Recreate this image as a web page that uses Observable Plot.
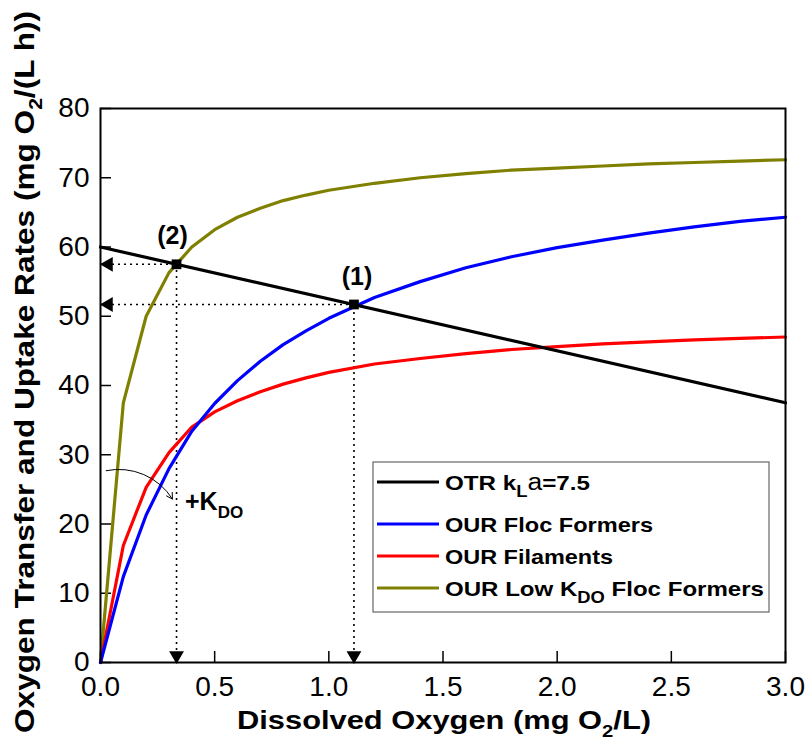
<!DOCTYPE html>
<html><head><meta charset="utf-8">
<script src="https://cdn.jsdelivr.net/npm/d3@7"></script>
<script src="https://cdn.jsdelivr.net/npm/@observablehq/plot@0.6"></script>
<style>body{margin:0;background:#fff;font-family:"Liberation Sans",Arial,sans-serif}</style>
</head><body><div id="chart"></div>
<script>
// Dissolved oxygen grid (mg O2/L)
const doGrid = [0,0.1,0.2,0.3,0.4,0.5,0.6,0.7,0.8,0.9,1.0,1.2,1.4,1.6,1.8,2.0,2.2,2.4,2.6,2.8,3.0];
const ourFloc = [0,12.4,21.3,28.0,33.4,37.4,40.7,43.5,45.9,47.9,49.7,52.7,55.0,57.0,58.6,59.9,61.0,62.0,62.9,63.7,64.3];
const ourFil  = [0,16.9,25.3,30.3,34.0,36.2,37.8,39.1,40.2,41.1,41.9,43.1,43.9,44.6,45.2,45.6,46.0,46.3,46.6,46.8,47.0];
const ourLowK = [0,37.5,50.0,56.3,60.0,62.5,64.3,65.6,66.7,67.5,68.2,69.2,70.0,70.6,71.1,71.4,71.7,72.0,72.2,72.4,72.6];
// OTR line
const otrDO = [0, 3.0];
const otrVal = [60, 37.5];
// operating points
const opDO = [1.11, 0.333];
const opRate = [51.7, 57.5];
const opLabel = ["(1)", "(2)"];
// ticks
const xTicks = [0,0.5,1.0,1.5,2.0,2.5,3.0];
const yTicks = [0,10,20,30,40,50,60,70,80];
// legend
const seriesNames = ["OTR", "OUR Floc Formers", "OUR Filaments", "OUR Low KDO Floc Formers"];
const seriesColors = ["#000000", "#0000ff", "#ff0000", "#808000"];
// K_DO annotation arrow
const kArrow = [{x1: 0.025, y1: 27.7, x2: 0.315, y2: 23.6}];

const mk = (xs, ys) => xs.map((x, i) => ({x, y: ys[i]}));
const pts = opDO.map((x, i) => ({x, y: opRate[i], label: opLabel[i]}));

const font = `"Liberation Sans", Arial, sans-serif`;

const plot = Plot.plot({
  width: 811, height: 744,
  marginLeft: 100, marginRight: 26, marginTop: 108, marginBottom: 82,
  style: {fontFamily: font, fontSize: "28px", background: "#fff", color: "#000"},
  x: {domain: [0, 3], ticks: xTicks, tickFormat: d3.format(".1f"), label: null},
  y: {domain: [0, 80], ticks: yTicks, label: null},
  marks: [
    Plot.axisX({ticks: xTicks, tickFormat: d3.format(".1f"), tickSize: -11, tickPadding: 25, strokeWidth: 1.5, fontSize: 28}),
    Plot.axisY({ticks: yTicks, tickSize: -11, tickPadding: 22, strokeWidth: 1.5, fontSize: 28}),
    // dotted guides
    Plot.ruleY(pts, {y: "y", x1: 0, x2: "x", stroke: "#000", strokeWidth: 1.6, strokeDasharray: "2,4"}),
    Plot.ruleX(pts, {x: "x", y1: 0, y2: "y", stroke: "#000", strokeWidth: 1.6, strokeDasharray: "2,4"}),
    Plot.dot(pts, {x: 0, y: "y", symbol: "triangle", r: 5.5, fill: "#000", rotate: -90, dx: 8}),
    Plot.dot(pts, {x: "x", y: 0, symbol: "triangle", r: 5.5, fill: "#000", rotate: 180, dy: -7}),
    // curves
    Plot.line(mk(doGrid, ourLowK), {x: "x", y: "y", stroke: seriesColors[3], strokeWidth: 3.2}),
    Plot.line(mk(doGrid, ourFil), {x: "x", y: "y", stroke: seriesColors[2], strokeWidth: 3.2}),
    Plot.line(mk(doGrid, ourFloc), {x: "x", y: "y", stroke: seriesColors[1], strokeWidth: 3.2}),
    Plot.line(mk(otrDO, otrVal), {x: "x", y: "y", stroke: seriesColors[0], strokeWidth: 3.2}),
    Plot.dot(pts, {x: "x", y: "y", symbol: "square", r: 5.5, fill: "#000"}),
    Plot.text(pts.slice(0, 1), {x: "x", y: "y", text: "label", dy: -27, dx: 3, fontSize: 25, fontWeight: "bold"}),
    Plot.text(pts.slice(1, 2), {x: "x", y: "y", text: "label", dy: -28, dx: -4, fontSize: 25, fontWeight: "bold"}),
    Plot.arrow(kArrow, {x1: "x1", y1: "y1", x2: "x2", y2: "y2", bend: 35, stroke: "#000", strokeWidth: 1, headLength: 10}),
    Plot.frame({stroke: "#000", strokeWidth: 2})
  ]
});

const svg = d3.select(plot);

// +K_DO label
const kt = svg.append("text").attr("x", 185).attr("y", 510).attr("text-anchor", "start")
  .attr("font-size", 25).attr("font-weight", "bold").attr("font-family", font);
kt.append("tspan").text("+K");
kt.append("tspan").attr("font-size", 17).attr("dy", 8).text("DO");

// axis titles
const xt = svg.append("text").attr("x", 444).attr("y", 729).attr("text-anchor", "middle")
  .attr("font-size", 26).attr("font-weight", "bold").attr("font-family", font)
  .attr("textLength", 414).attr("lengthAdjust", "spacingAndGlyphs");
xt.append("tspan").text("Dissolved Oxygen (mg O");
xt.append("tspan").attr("font-size", 17).attr("dy", 8).text("2");
xt.append("tspan").attr("dy", -8).text("/L)");

const yt = svg.append("text").attr("transform", "translate(34,372) rotate(-90)").attr("text-anchor", "middle")
  .attr("font-size", 27).attr("font-weight", "bold").attr("font-family", font)
  .attr("textLength", 722).attr("lengthAdjust", "spacingAndGlyphs");
yt.append("tspan").text("Oxygen Transfer and Uptake Rates (mg O");
yt.append("tspan").attr("font-size", 18).attr("dy", 8).text("2");
yt.append("tspan").attr("dy", -8).text("/(L h))");

// legend
const lg = svg.append("g").attr("font-family", font).attr("font-weight", "bold").attr("font-size", 21)
  .attr("text-anchor", "start");
lg.append("rect").attr("x", 373).attr("y", 462).attr("width", 396).attr("height", 150)
  .attr("fill", "#fff").attr("stroke", "#666").attr("stroke-width", 1.2);
const rowsY = [482, 524, 556, 588];
const rowLen = [145, 208, 168, 319];
rowsY.forEach((ry, i) => {
  lg.append("line").attr("x1", 377).attr("x2", 439).attr("y1", ry).attr("y2", ry)
    .attr("stroke", seriesColors[i]).attr("stroke-width", 3.2);
  const t = lg.append("text").attr("x", 445).attr("y", ry + 8)
    .attr("textLength", rowLen[i]).attr("lengthAdjust", "spacingAndGlyphs");
  if (i === 0) {
    t.append("tspan").text("OTR k");
    t.append("tspan").attr("font-size", 16).attr("dy", 7).text("L");
    t.append("tspan").attr("dy", -7).attr("font-weight", "normal").attr("font-size", 23).text("a");
    t.append("tspan").text("=7.5");
  } else if (i === 3) {
    t.append("tspan").text("OUR Low K");
    t.append("tspan").attr("font-size", 16).attr("dy", 7).text("DO");
    t.append("tspan").attr("dy", -7).text(" Floc Formers");
  } else {
    t.text(seriesNames[i]);
  }
});

document.getElementById("chart").appendChild(plot);
</script>
</body></html>
